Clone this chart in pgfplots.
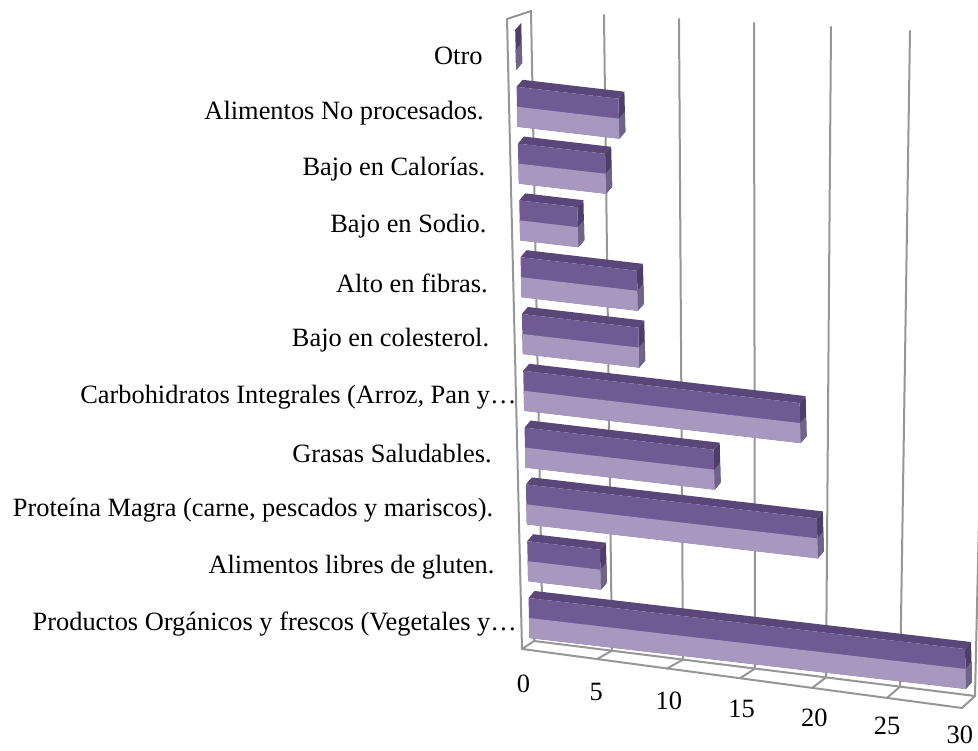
\documentclass[border=0pt]{standalone}
\usepackage{pgfplots}
\pgfplotsset{compat=1.18}
\usepackage{pgfplotstable}
\usepackage{fontspec}
\setmainfont{Liberation Serif}

\definecolor{barDark}{RGB}{111,90,147}
\definecolor{barLight}{RGB}{168,152,192}
\definecolor{barTop}{RGB}{90,70,120}
\definecolor{barEndDark}{RGB}{78,61,104}
\definecolor{barEndLight}{RGB}{110,100,136}
\definecolor{wallLine}{RGB}{150,150,150}

% pos = row on the category axis (0 = bottom), value = bar length
\pgfplotstableread{
pos value
0 30
1 5
2 20
3 13
4 19
5 8
6 8
7 4
8 6
9 7
10 0
}\foodtable

\def\halfw{0.352}% half height of the front face
\def\depx{0.425}% depth offset of the back edges, in data units
\def\depy{0.136}

% one solid bar: top face, end face and the two-tone front face
\newcommand\drawsolidbar[2]{%
  \pgfmathsetmacro\yLo{#1-\halfw}%
  \pgfmathsetmacro\yHi{#1+\halfw}%
  \pgfmathsetmacro\yLoB{#1-\halfw+\depy}%
  \pgfmathsetmacro\yMdB{#1+\depy}%
  \pgfmathsetmacro\yHiB{#1+\halfw+\depy}%
  \pgfmathsetmacro\xEnd{#2}%
  \pgfmathsetmacro\xEndB{#2+\depx}%
  \edef\barcmds{%
    \noexpand\addplot[draw=none,fill=barTop] coordinates {(0,\yHi) (\xEnd,\yHi) (\xEndB,\yHiB) (\depx,\yHiB)};
    \noexpand\addplot[draw=none,fill=barEndDark] coordinates {(\xEnd,\yLo) (\xEnd,\yHi) (\xEndB,\yHiB) (\xEndB,\yLoB)};
    \noexpand\addplot[draw=none,fill=barEndLight] coordinates {(\xEnd,\yLo) (\xEnd,#1) (\xEndB,\yMdB) (\xEndB,\yLoB)};
    \noexpand\addplot[draw=none,fill=barDark] coordinates {(0,\yLo) (\xEnd,\yLo) (\xEnd,\yHi) (0,\yHi)};
    \noexpand\addplot[draw=none,fill=barLight] coordinates {(0,\yLo) (\xEnd,\yLo) (\xEnd,#1) (0,#1)};
  }\barcmds
}

\begin{document}
\begin{tikzpicture}
\useasboundingbox (0,0) rectangle (978bp,751bp);

% side wall, back-wall grid and floor
\begin{scope}[yshift=751bp, x=1bp, y=-1bp, draw=wallLine, line width=2bp, line join=round, line cap=round]
  \draw (507,19) -- (531,11);
  \draw (507,19) -- (522,649);
  \draw (531,11) -- (542,600) -- (534,641);
  \draw (604,15) -- (612,650.7);
  \draw (679,19) -- (683,659.6);
  \draw (754,23) -- (755,668.6);
  \draw (831,27) -- (826,677.4);
  \draw (910,31) -- (900,686.6);
  \draw (990,35) -- (975,696);
  \draw (522,649) -- (962,708) -- (975,696) -- (534,641) -- cycle;
  \draw (597,659.1) -- (612,650.7);
  \draw (667,668.5) -- (683,659.6);
  \draw (740,678.3) -- (755,668.6);
  \draw (812,688) -- (826,677.4);
  \draw (887,698) -- (900,686.6);
\end{scope}

\begin{axis}[
  at={(529bp,133bp)}, anchor=origin,
  disabledatascaling,
  x={(14.55bp,-1.7bp)}, y={(-1.33bp,56.8bp)},
  xmin=0, xmax=30, ymin=-0.65, ymax=10.6,
  clip=false,
  axis line style={draw=none},
  tick style={draw=none},
  major tick length=0pt,
  xtick={0,5,...,30},
  ytick={0,1,...,10},
  yticklabels={
    {Productos Orgánicos y frescos (Vegetales y…\hspace*{-21bp}},
    {Alimentos libres de gluten.},
    {Proteína Magra (carne, pescados y mariscos).},
    {Grasas Saludables.},
    {Carbohidratos Integrales (Arroz, Pan y…\hspace*{-26bp}},
    {Bajo en colesterol.},
    {Alto en fibras.},
    {Bajo en Sodio.},
    {Bajo en Calorías.},
    {Alimentos No procesados.},
    {Otro}},
  tick label style={font=\fontsize{26.4bp}{31bp}\selectfont, inner sep=0pt},
  xticklabel style={anchor=center, xshift=-6.5bp, yshift=-28.5bp},
  yticklabel style={anchor=east, xshift=-33bp, yshift=-6bp},
  /pgf/number format/assume math mode=true,
]
\pgfplotstablegetrowsof{\foodtable}
\pgfmathtruncatemacro\lastrow{\pgfplotsretval-1}
\pgfplotsforeachungrouped \r in {0,...,\lastrow}{%
  \pgfplotstablegetelem{\r}{pos}\of\foodtable \let\cpos\pgfplotsretval
  \pgfplotstablegetelem{\r}{value}\of\foodtable \let\cval\pgfplotsretval
  \drawsolidbar{\cpos}{\cval}%
}
\end{axis}
\end{tikzpicture}
\end{document}
